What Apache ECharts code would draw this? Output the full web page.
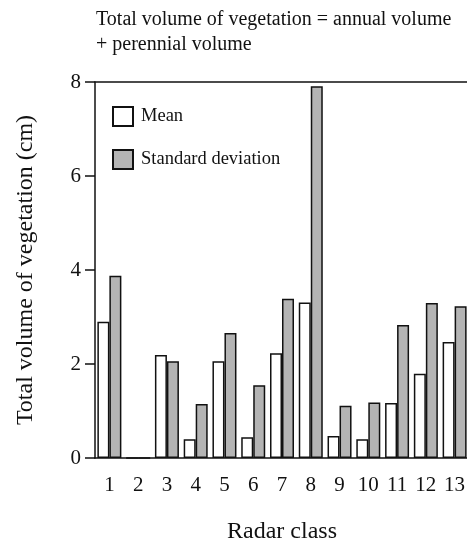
<!DOCTYPE html>
<html>
<head>
<meta charset="utf-8">
<script src="https://cdn.jsdelivr.net/npm/echarts@6/dist/echarts.min.js"></script>
<style>
html,body{margin:0;padding:0;background:#fff;}
#main{width:467px;height:543px;}
</style>
</head>
<body>
<div id="main"></div>
<script>
// radar classes and values
var radarClass = ['1','2','3','4','5','6','7','8','9','10','11','12','13'];
var meanVol = [2.90, 0, 2.19, 0.40, 2.06, 0.44, 2.23, 3.31, 0.47, 0.40, 1.17, 1.79, 2.47];
var sdVol = [3.88, 0, 2.06, 1.15, 2.66, 1.55, 3.39, 7.91, 1.11, 1.18, 2.83, 3.30, 3.23];
var yTicks = [0, 2, 4, 6, 8];

var font = 'Liberation Serif';

var option = {
    animation: false,
    backgroundColor: '#fff',
    title: {
        text: 'Total volume of vegetation = annual volume\n+ perennial volume',
        left: 91,
        top: 2,
        textStyle: {
            fontFamily: font,
            fontWeight: 'normal',
            fontSize: 20,
            lineHeight: 25,
            color: '#111'
        }
    },
    legend: {
        orient: 'vertical',
        left: 112,
        top: 106,
        padding: 0,
        itemWidth: 20,
        itemHeight: 19,
        itemGap: 22,
        icon: 'rect',
        textStyle: {
            fontFamily: font,
            fontSize: 18.5,
            color: '#111',
            padding: [0, 0, 0, 3]
        },
        data: ['Mean', 'Standard deviation']
    },
    grid: {
        left: 95,
        top: 82,
        width: 374,
        bottom: 85,
        outerBoundsMode: 'none'
    },
    xAxis: [
        {
            type: 'category',
            data: radarClass,
            name: 'Radar class',
            nameLocation: 'middle',
            nameGap: 62,
            nameTextStyle: { fontFamily: font, fontSize: 24, color: '#111' },
            axisLine: { lineStyle: { color: '#111', width: 1.5 } },
            axisTick: { alignWithLabel: true, length: 10, lineStyle: { color: '#111', width: 1.5 } },
            axisLabel: { fontFamily: font, fontSize: 21, color: '#111', margin: 17, interval: 0 },
            splitLine: { show: false }
        },
        {
            // top frame line only
            type: 'category',
            position: 'top',
            data: radarClass,
            axisLine: { lineStyle: { color: '#111', width: 1.5 } },
            axisTick: { show: false },
            axisLabel: { show: false },
            splitLine: { show: false }
        }
    ],
    yAxis: {
        type: 'value',
        min: 0,
        max: 8,
        interval: 2,
        name: 'Total volume of vegetation (cm)',
        nameLocation: 'middle',
        nameGap: 57,
        nameTextStyle: { fontFamily: font, fontSize: 24, color: '#111' },
        axisLine: { show: true, lineStyle: { color: '#111', width: 1.5 } },
        axisTick: { show: true, length: 10, lineStyle: { color: '#111', width: 1.5 } },
        axisLabel: {
            fontFamily: font, fontSize: 21, color: '#111', margin: 14,
            formatter: function (v) { return yTicks.indexOf(v) >= 0 ? String(v) : ''; }
        },
        splitLine: { show: false }
    },
    series: [
        {
            name: 'Mean',
            type: 'bar',
            data: meanVol,
            barWidth: 12,
            barGap: '0%',
            itemStyle: { color: '#ffffff', borderColor: '#111', borderWidth: 1.5 }
        },
        {
            name: 'Standard deviation',
            type: 'bar',
            data: sdVol,
            barWidth: 12,
            barGap: '0%',
            itemStyle: { color: '#b4b4b4', borderColor: '#111', borderWidth: 1.5 }
        }
    ]
};

var chartVeg = null;
chartVeg = echarts.init(document.getElementById('main'), null, { renderer: 'canvas' });
chartVeg.setOption(option);
</script>
</body>
</html>
